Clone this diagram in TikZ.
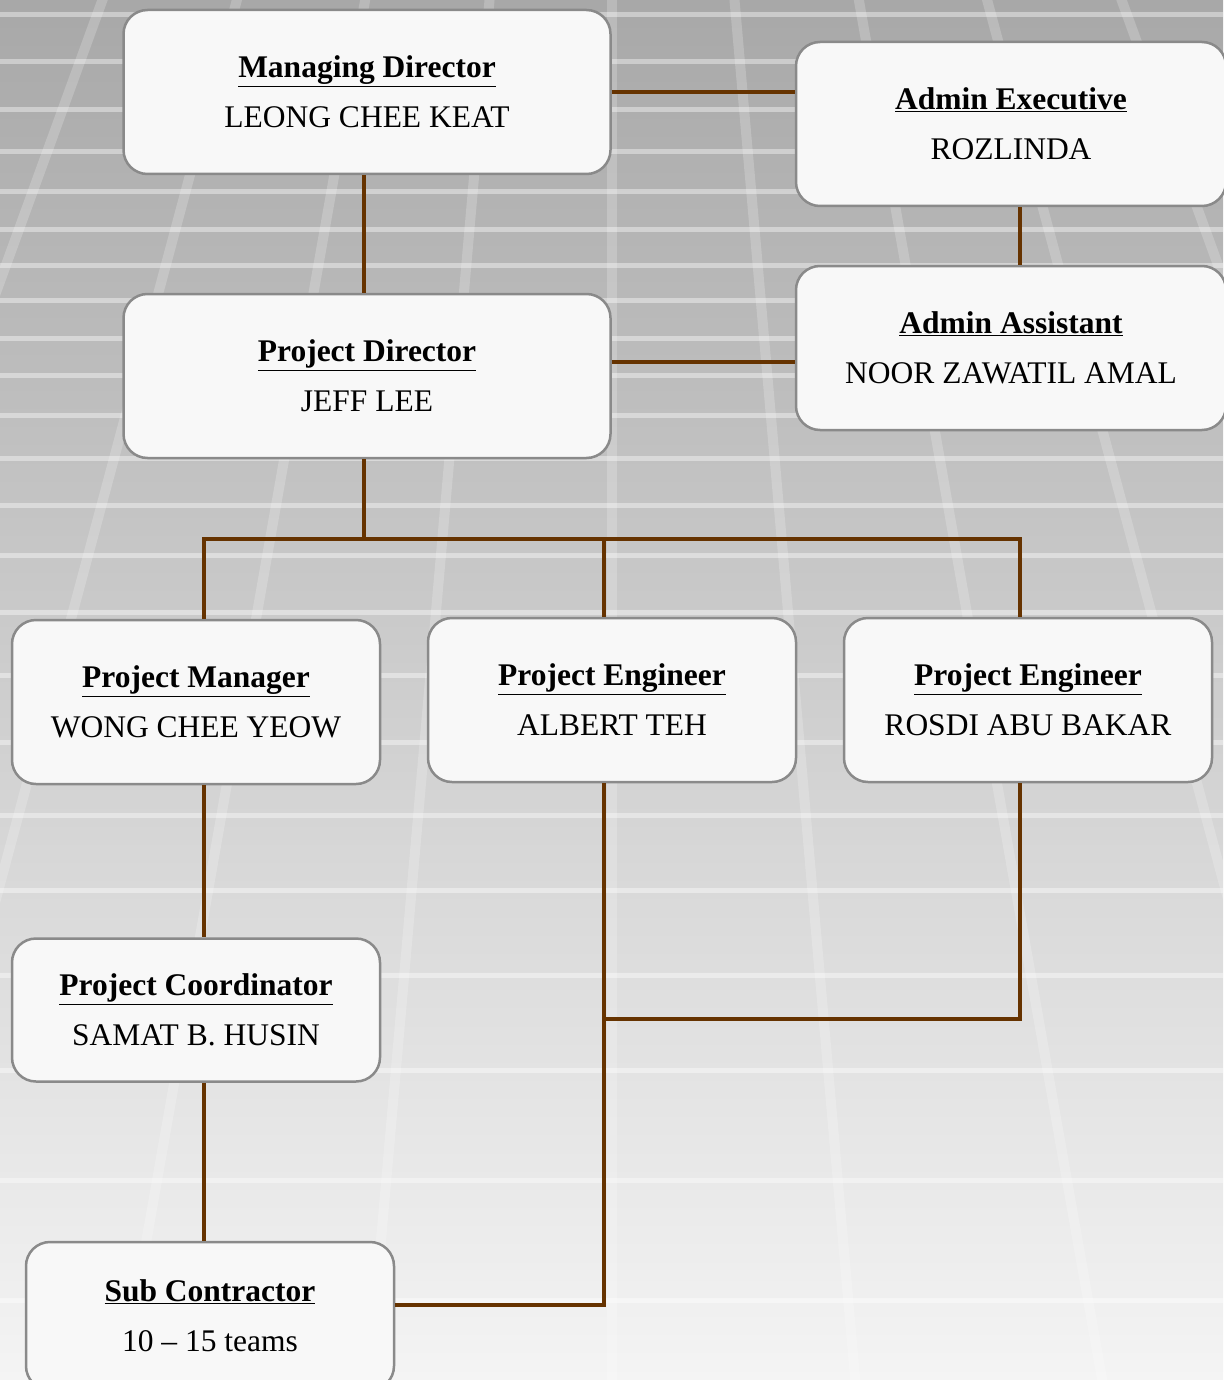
\documentclass[tikz,border=0pt]{standalone}
\usepackage{fontspec}
\setmainfont{Liberation Serif}
\usetikzlibrary{positioning,calc}
\definecolor{linkbrown}{RGB}{102,51,0}
\definecolor{boxgray}{RGB}{138,138,138}
\definecolor{boxfill}{RGB}{248,248,248}
\definecolor{bgtop}{RGB}{168,168,168}
\definecolor{bgmid}{RGB}{216,216,216}
\definecolor{bgbot}{RGB}{244,244,244}
\tikzstyle{post}=[draw=boxgray, line width=2.5pt, fill=boxfill, rounded corners=24pt, align=center, inner sep=0pt, minimum height=164pt, minimum width=368pt, font=\fontsize{31.5}{50}\selectfont]
\tikzstyle{headpost}=[post, minimum width=487pt]
\tikzstyle{adminpost}=[post, minimum width=430pt]
\tikzstyle{link}=[draw=linkbrown, line width=4pt]
\tikzstyle{stripe}=[white, opacity=0.2, line width=10pt]
\tikzstyle{band}=[white, opacity=0.4, line width=5pt]
\newcommand{\role}[2]{\underline{\textbf{#1}}\\#2}

\begin{document}
\begin{tikzpicture}[x=1pt, y=1pt]
    \useasboundingbox (0,0) rectangle (1223,-1380);
    % background
    \begin{scope}
      \clip (0,0) rectangle (1223,-1380);
      \shade[top color=bgtop, middle color=bgmid, bottom color=bgbot] (0,0) rectangle (1223,-1380);
      \foreach \y in {15,62,110,152,192,230,265,300,338,375,415,458,505,555,612,675,742,815,890,975,1070,1180,1300}
        \draw[band] (0,-\y) -- (1223,-\y);
      \foreach \a in {-45,-40,...,45}
        \draw[stripe] (612,1400) -- ++(-90+\a:4500);
    \end{scope}
    %
    \node (md) [headpost] at (367,-92) {\role{Managing Director}{LEONG CHEE KEAT}};
    \node (pd) [headpost, below of=md, node distance=284pt] {\role{Project Director}{JEFF LEE}};
    \node (ae) [adminpost, right of=md, node distance=644pt, yshift=-32pt] {\role{Admin Executive}{ROZLINDA}};
    \node (aa) [adminpost, below of=ae, node distance=224pt] {\role{Admin Assistant}{NOOR ZAWATIL AMAL}};
    %
    \node (pm) [post, below of=pd, node distance=326pt, xshift=-171pt] {\role{Project Manager}{WONG CHEE YEOW}};
    \node (pe1) [post, right of=pm, node distance=416pt, yshift=2pt] {\role{Project Engineer}{ALBERT TEH}};
    \node (pe2) [post, right of=pe1, node distance=416pt] {\role{Project Engineer}{ROSDI ABU BAKAR}};
    \node (pc) [post, below of=pm, node distance=308pt, minimum height=143pt] {\role{Project Coordinator}{SAMAT B. HUSIN}};
    \node (sc) [post, below of=pc, node distance=306pt, xshift=14pt, minimum height=148pt] {\role{Sub Contractor}{10 -- 15 teams}};

    \coordinate (bus) at ($(pd.south)+(-3,-80)$);
    \coordinate (pmdrop) at ([xshift=8pt]pm.north);
    \coordinate (pe1drop) at ([xshift=-8pt]pe1.north);
    \coordinate (pe2drop) at ([xshift=-8pt]pe2.north);
    \coordinate (join) at ($(pe1.south)+(-8,-236)$);
    \draw [link] (md) -- (md -| ae.west);
    \draw [link] ([xshift=-3pt]md.south) -- ([xshift=-3pt]pd.north);
    \draw [link] ([xshift=9pt]ae.south) -- ([xshift=9pt]aa.north);
    \draw [link] ([yshift=14pt]pd.east) -- ([yshift=14pt]pd.east -| aa.west);
    \draw [link] ([xshift=-3pt]pd.south) -- (bus);
    \draw [link] (pmdrop) |- (pe2drop |- bus) -- (pe2drop);
    \draw [link] (pe1drop) -- (pe1drop |- bus);
    \draw [link] (pmdrop |- pm.south) -- (pmdrop |- pc.north);
    \draw [link] (pmdrop |- pc.south) -- (pmdrop |- sc.north);
    \draw [link] (pe1drop |- pe1.south) |- ([yshift=11pt]sc.east);
    \draw [link] (pe2drop |- pe2.south) |- (join);
\end{tikzpicture}
\end{document}
